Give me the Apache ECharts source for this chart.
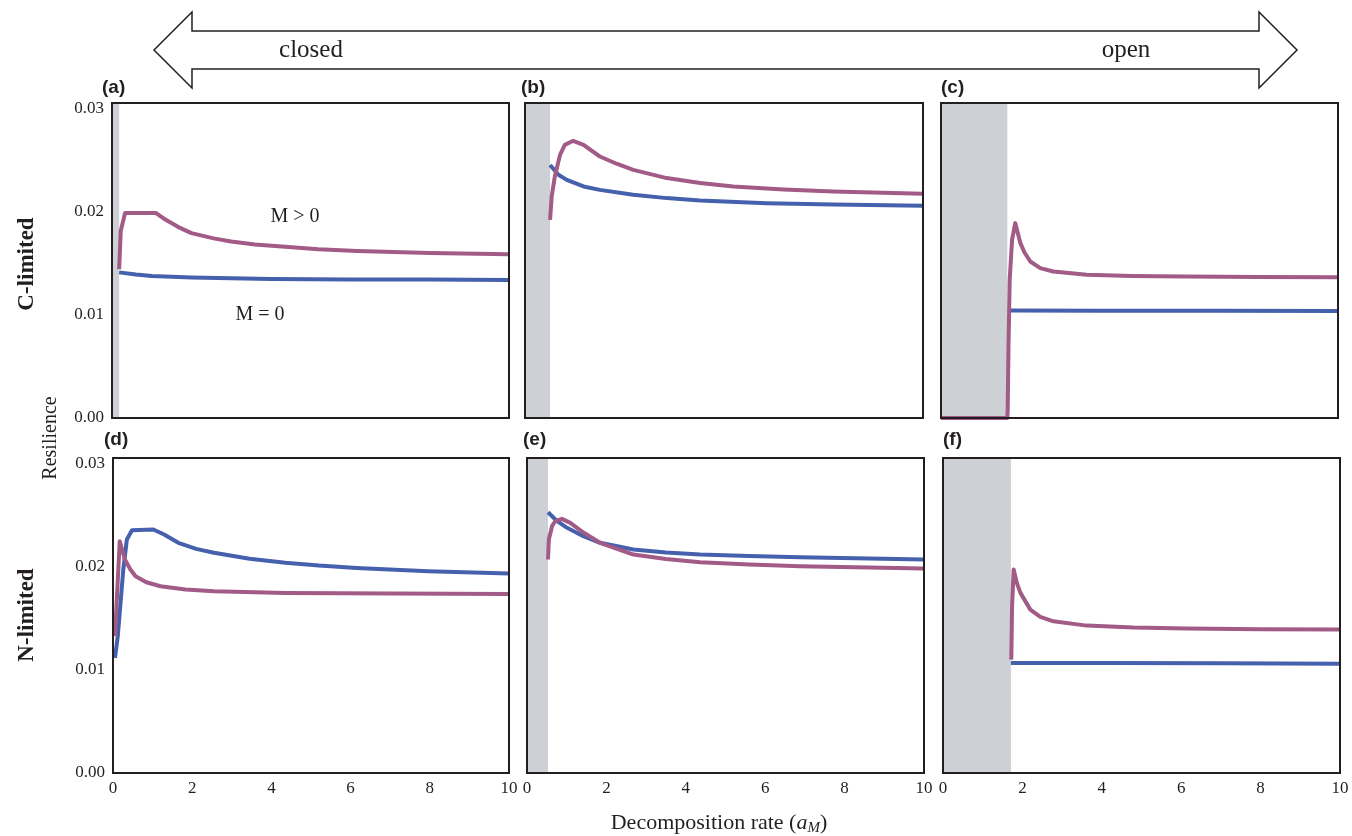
<!DOCTYPE html>
<html>
<head>
<meta charset="utf-8">
<style>
  html, body { margin: 0; background: #fff; }
  #chart { width: 1352px; height: 836px; }
</style>
<script src="https://cdn.jsdelivr.net/npm/echarts@6/dist/echarts.min.js"></script>
</head>
<body>
<div id="chart"></div>
<script>
// Resilience vs decomposition rate, six panels (C-limited / N-limited rows)
const panelLabels = ['(a)', '(b)', '(c)', '(d)', '(e)', '(f)'];
const xTicks = [0, 2, 4, 6, 8, 10];
const yTicks = [0, 0.01, 0.02, 0.03];
// end of the grey (infeasible) band in each panel, 0 = none
const shadeEnd = [0.18, 0.63, 1.67, 0, 0.53, 1.71];

// M = 0 (blue) and M > 0 (purple), [aM, resilience]
const mZeroA = [[0.18, 0.0141], [0.6, 0.0139], [1, 0.01375], [2, 0.0136], [3, 0.01352], [4, 0.01347], [6, 0.01342], [8, 0.0134], [10, 0.01337]];
const mPosA = [[0.18, 0.0144], [0.22, 0.0181], [0.33, 0.01986], [1.1, 0.01986], [1.3, 0.01932], [1.66, 0.01851], [2, 0.0179], [2.56, 0.01739], [3, 0.01709], [3.6, 0.0168], [4.36, 0.01658], [5.2, 0.01635], [6.17, 0.01617], [8, 0.01597], [10, 0.01586]];

const mZeroB = [[0.63, 0.0245], [0.84, 0.02355], [1.05, 0.02306], [1.47, 0.02242], [1.88, 0.02209], [2.72, 0.02161], [3.56, 0.02129], [4.4, 0.02106], [6.07, 0.0208], [7.75, 0.02067], [10, 0.02054]];
const mPosB = [[0.63, 0.01919], [0.67, 0.02145], [0.75, 0.02339], [0.88, 0.02548], [1.0, 0.02645], [1.21, 0.02684], [1.47, 0.02645], [1.88, 0.02532], [2.3, 0.02462], [2.72, 0.02403], [3.56, 0.02323], [4.4, 0.02275], [5.23, 0.02242], [6.5, 0.02213], [7.74, 0.02193], [10, 0.02171]];

const mZeroC = [[1.76, 0.0104], [4, 0.01039], [7, 0.01038], [10, 0.01037]];
const mPosC = [[0, 0], [1.67, 0], [1.68, 0.00078], [1.70, 0.0069], [1.73, 0.01337], [1.79, 0.01725], [1.87, 0.01887], [2.0, 0.01693], [2.1, 0.01605], [2.25, 0.01515], [2.5, 0.01451], [2.83, 0.01418], [3.67, 0.01386], [4.8, 0.01375], [6.19, 0.01369], [8, 0.01365], [10, 0.01363]];

const mZeroD = [[0.05, 0.01114], [0.12, 0.01324], [0.26, 0.0197], [0.35, 0.02261], [0.48, 0.02351], [1.02, 0.02358], [1.29, 0.02309], [1.65, 0.02229], [2.1, 0.0217], [2.55, 0.02132], [3.45, 0.02074], [4.35, 0.02035], [5.2, 0.02008], [6.15, 0.01986], [7.96, 0.01953], [10, 0.01931]];
const mPosD = [[0.05, 0.01324], [0.17, 0.02244], [0.3, 0.02067], [0.44, 0.0197], [0.57, 0.01905], [0.84, 0.01847], [1.2, 0.01808], [1.83, 0.01776], [2.55, 0.0176], [4.35, 0.01744], [7.06, 0.01737], [10, 0.01734]];

const mZeroE = [[0.53, 0.02525], [0.76, 0.02438], [1.01, 0.02374], [1.42, 0.02293], [1.84, 0.02229], [2.68, 0.02164], [3.5, 0.02136], [4.36, 0.02115], [5.6, 0.021], [6.88, 0.02089], [10, 0.02067]];
const mPosE = [[0.53, 0.02067], [0.55, 0.02261], [0.63, 0.0239], [0.71, 0.02438], [0.88, 0.02461], [1.09, 0.02422], [1.43, 0.02326], [1.84, 0.02229], [2.68, 0.02115], [3.5, 0.02072], [4.36, 0.02041], [5.6, 0.02018], [6.88, 0.02002], [10, 0.0198]];

const mZeroF = [[1.71, 0.01066], [4, 0.01064], [7, 0.01062], [10, 0.01059]];
const mPosF = [[1.72, 0.01098], [1.74, 0.01614], [1.78, 0.0197], [1.86, 0.01841], [1.95, 0.01744], [2.2, 0.01582], [2.45, 0.01512], [2.78, 0.01469], [3.62, 0.01427], [4.8, 0.01408], [6.14, 0.01398], [8, 0.01392], [10, 0.01389]];

const mZero = [mZeroA, mZeroB, mZeroC, mZeroD, mZeroE, mZeroF];
const mPos = [mPosA, mPosB, mPosC, mPosD, mPosE, mPosF];

const BLUE = '#4560ad';
const PURPLE = '#a15b86';
const INK = '#231f20';
const SERIF = '"Liberation Serif", "DejaVu Serif", serif';
const SANS = '"Liberation Sans", Arial, sans-serif';

// panel boxes: left, top, width, height
const boxes = [
    [112, 103, 397, 315], [525, 103, 398, 315], [941, 103, 397, 315],
    [113, 458, 396, 315], [527, 458, 397, 315], [943, 458, 397, 315]
];

const onTick = (v, ticks) => ticks.some(t => Math.abs(t - v) < 1e-9);

const chart = echarts.init(document.getElementById('chart'));

const grid = boxes.map(b => ({
    left: b[0], top: b[1], width: b[2], height: b[3], show: false
}));

const xAxis = boxes.map((b, i) => ({
    gridIndex: i, type: 'value', min: 0, max: 10, interval: 2,
    axisLine: { show: false }, axisTick: { show: false }, splitLine: { show: false },
    axisLabel: {
        show: i >= 3, margin: 7, color: INK, fontFamily: SERIF, fontSize: 17,
        formatter: v => onTick(v, xTicks) ? String(v) : ''
    }
}));

const yAxis = boxes.map((b, i) => ({
    gridIndex: i, type: 'value', min: 0, max: 0.0305, interval: 0.01,
    axisLine: { show: false }, axisTick: { show: false }, splitLine: { show: false },
    axisLabel: {
        show: i % 3 === 0, margin: 8, color: INK, fontFamily: SERIF, fontSize: 17,
        formatter: v => onTick(v, yTicks) ? v.toFixed(2) : ''
    }
}));

const series = [];
boxes.forEach((b, i) => {
    const blue = {
        type: 'line', xAxisIndex: i, yAxisIndex: i, data: mZero[i],
        symbol: 'none', color: BLUE, z: 3,
        lineStyle: { width: 4, color: BLUE, join: 'round' }
    };
    if (shadeEnd[i] > 0) {
        blue.markArea = {
            silent: true, z: 1,
            itemStyle: { color: '#cdd0d4' },
            data: [[{ xAxis: 0 }, { xAxis: shadeEnd[i] }]]
        };
    }
    series.push(blue);
    series.push({
        type: 'line', xAxisIndex: i, yAxisIndex: i, data: mPos[i],
        symbol: 'none', color: PURPLE, z: 4,
        lineStyle: { width: 4, color: PURPLE, join: 'round' }
    });
});

const labelPos = [[102, 88], [521, 88], [941, 88], [104, 440], [523, 440], [943, 440]];
const graphic = [
    {
        type: 'polygon', z: 10,
        shape: { points: [[154, 50], [192, 12], [192, 31], [1259, 31], [1259, 12], [1297, 50], [1259, 88], [1259, 69], [192, 69], [192, 88]] },
        style: { fill: '#fff', stroke: INK, lineWidth: 1.5 }
    },
    { type: 'text', x: 311, y: 50, z: 11, style: { text: 'closed', font: '25px ' + SERIF, fill: INK, textAlign: 'center', textVerticalAlign: 'middle' } },
    { type: 'text', x: 1126, y: 50, z: 11, style: { text: 'open', font: '25px ' + SERIF, fill: INK, textAlign: 'center', textVerticalAlign: 'middle' } },
    { type: 'text', x: 27, y: 264, rotation: Math.PI / 2, style: { text: 'C-limited', font: 'bold 23px ' + SERIF, fill: INK, textAlign: 'center', textVerticalAlign: 'middle' } },
    { type: 'text', x: 27, y: 615, rotation: Math.PI / 2, style: { text: 'N-limited', font: 'bold 23px ' + SERIF, fill: INK, textAlign: 'center', textVerticalAlign: 'middle' } },
    { type: 'text', x: 51, y: 438, rotation: Math.PI / 2, style: { text: 'Resilience', font: '20px ' + SERIF, fill: INK, textAlign: 'center', textVerticalAlign: 'middle' } },
    { type: 'text', x: 295, y: 217, z: 11, style: { text: 'M > 0', font: '20px ' + SERIF, fill: INK, textAlign: 'center', textVerticalAlign: 'middle' } },
    { type: 'text', x: 260, y: 315, z: 11, style: { text: 'M = 0', font: '20px ' + SERIF, fill: INK, textAlign: 'center', textVerticalAlign: 'middle' } },
    {
        type: 'text', x: 719, y: 823,
        style: {
            text: '{n|Decomposition rate (}{i|a}{s|M}{n|)}',
            textAlign: 'center', textVerticalAlign: 'middle', fill: INK,
            rich: {
                n: { fontFamily: SERIF, fontSize: 22, lineHeight: 26, fill: INK },
                i: { fontFamily: SERIF, fontSize: 22, fontStyle: 'italic', lineHeight: 26, fill: INK },
                s: { fontFamily: SERIF, fontSize: 15, fontStyle: 'italic', lineHeight: 14, verticalAlign: 'bottom', fill: INK }
            }
        }
    }
];
// panel frames drawn above the shading and the curves
boxes.forEach(b => {
    graphic.push({
        type: 'rect', z: 20, silent: true,
        shape: { x: b[0], y: b[1], width: b[2], height: b[3] },
        style: { fill: null, stroke: INK, lineWidth: 2 }
    });
});
panelLabels.forEach((t, i) => {
    graphic.push({
        type: 'text', x: labelPos[i][0], y: labelPos[i][1], z: 11,
        style: { text: t, font: 'bold 19px ' + SANS, fill: INK, textAlign: 'left', textVerticalAlign: 'middle' }
    });
});

chart.setOption({
    animation: false,
    backgroundColor: '#fff',
    grid: grid,
    xAxis: xAxis,
    yAxis: yAxis,
    series: series,
    graphic: graphic
});
</script>
</body>
</html>
